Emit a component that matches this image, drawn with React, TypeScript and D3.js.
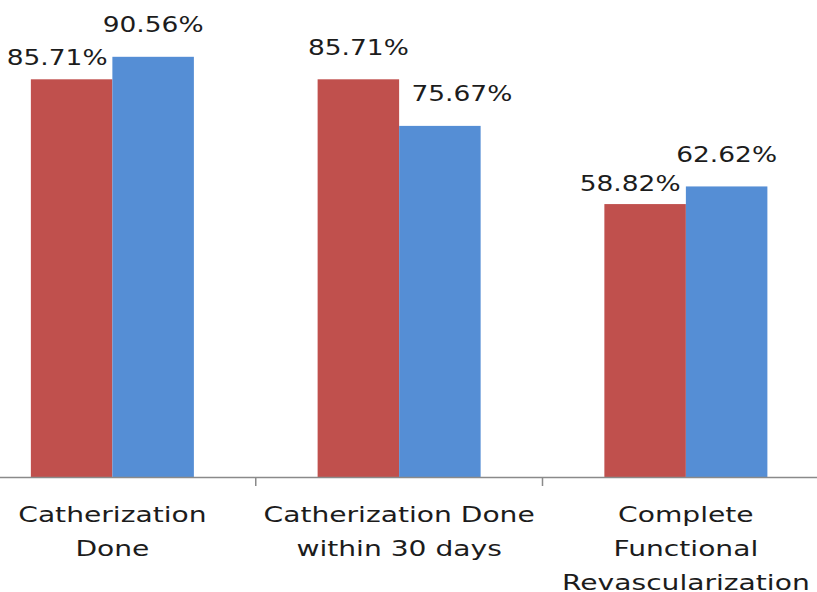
import React from "react";
import * as d3 from "d3";

const categories = [
  ["Catherization", "Done"],
  ["Catherization Done", "within 30 days"],
  ["Complete", "Functional", "Revascularization"],
];
const categoryKeys = ["Catherization Done", "Catherization Done within 30 days", "Complete Functional Revascularization"];
const seriesNames = ["Series A", "Series B"];
const seriesA = [85.71, 85.71, 58.82];
const seriesB = [90.56, 75.67, 62.62];

// label nudges (Excel auto-placement), per category per series
const labelDx = [[-14.5, 0], [0, 22], [-15, 0]];
const labelDy = [[10, 0], [0, 0], [11, 0]];

const W = 817;
const H = 592;
const colors = ["#C0504D", "#558ED5"];
const textColor = "#1c1c1c";
const font = "DejaVu Sans, Verdana, sans-serif";

export default function App() {
  const x0 = d3.scaleBand<string>().domain(categoryKeys).range([-31, 829.25]).paddingInner(0).paddingOuter(0);
  const x1 = d3.scaleBand<string>().domain(seriesNames).range([0, x0.step()]).paddingInner(0).paddingOuter(0.759);
  const y = d3.scaleLinear().domain([0, 100]).range([477, 13]);
  const values = [seriesA, seriesB];
  const baseY = y(0);
  const ticks = categoryKeys.slice(1).map((c) => x0(c) as number);

  return (
    <svg width={W} height={H} style={{ position: "absolute", left: 0, top: 0, background: "#fff" }}>
      <rect x={0} y={0} width={W} height={H} fill="#fff" />
      {categoryKeys.map((c, i) =>
        seriesNames.map((s, j) => {
          const v = values[j][i];
          const bx = (x0(c) as number) + (x1(s) as number);
          const bw = x1.bandwidth();
          return (
            <rect key={c + s} x={bx} y={y(v)} width={bw} height={baseY - y(v)} fill={colors[j]} />
          );
        })
      )}
      <line x1={0} x2={W} y1={baseY + 0.5} y2={baseY + 0.5} stroke="#8a8a8a" strokeWidth={1.5} />
      {ticks.map((t, i) => (
        <line key={i} x1={t} x2={t} y1={baseY} y2={baseY + 9} stroke="#8a8a8a" strokeWidth={1.5} />
      ))}
      {categoryKeys.map((c, i) =>
        seriesNames.map((s, j) => {
          const v = values[j][i];
          const cx = (x0(c) as number) + (x1(s) as number) + x1.bandwidth() / 2 + labelDx[i][j];
          const cy = y(v) - 24.5 + labelDy[i][j];
          return (
            <text
              key={"l" + c + s}
              transform={`translate(${cx},${cy}) scale(1.26,1)`}
              textAnchor="middle"
              fontFamily={font}
              fontSize={21}
              fill={textColor}
            >
              {v.toFixed(2) + "%"}
            </text>
          );
        })
      )}
      {categoryKeys.map((c, i) => {
        const cx = (x0(c) as number) + x0.bandwidth() / 2;
        return categories[i].map((line, k) => (
          <text
            key={"c" + i + k}
            transform={`translate(${cx},${522 + k * 34}) scale(1.34,1)`}
            textAnchor="middle"
            fontFamily={font}
            fontSize={21}
            fill={textColor}
          >
            {line}
          </text>
        ));
      })}
    </svg>
  );
}
